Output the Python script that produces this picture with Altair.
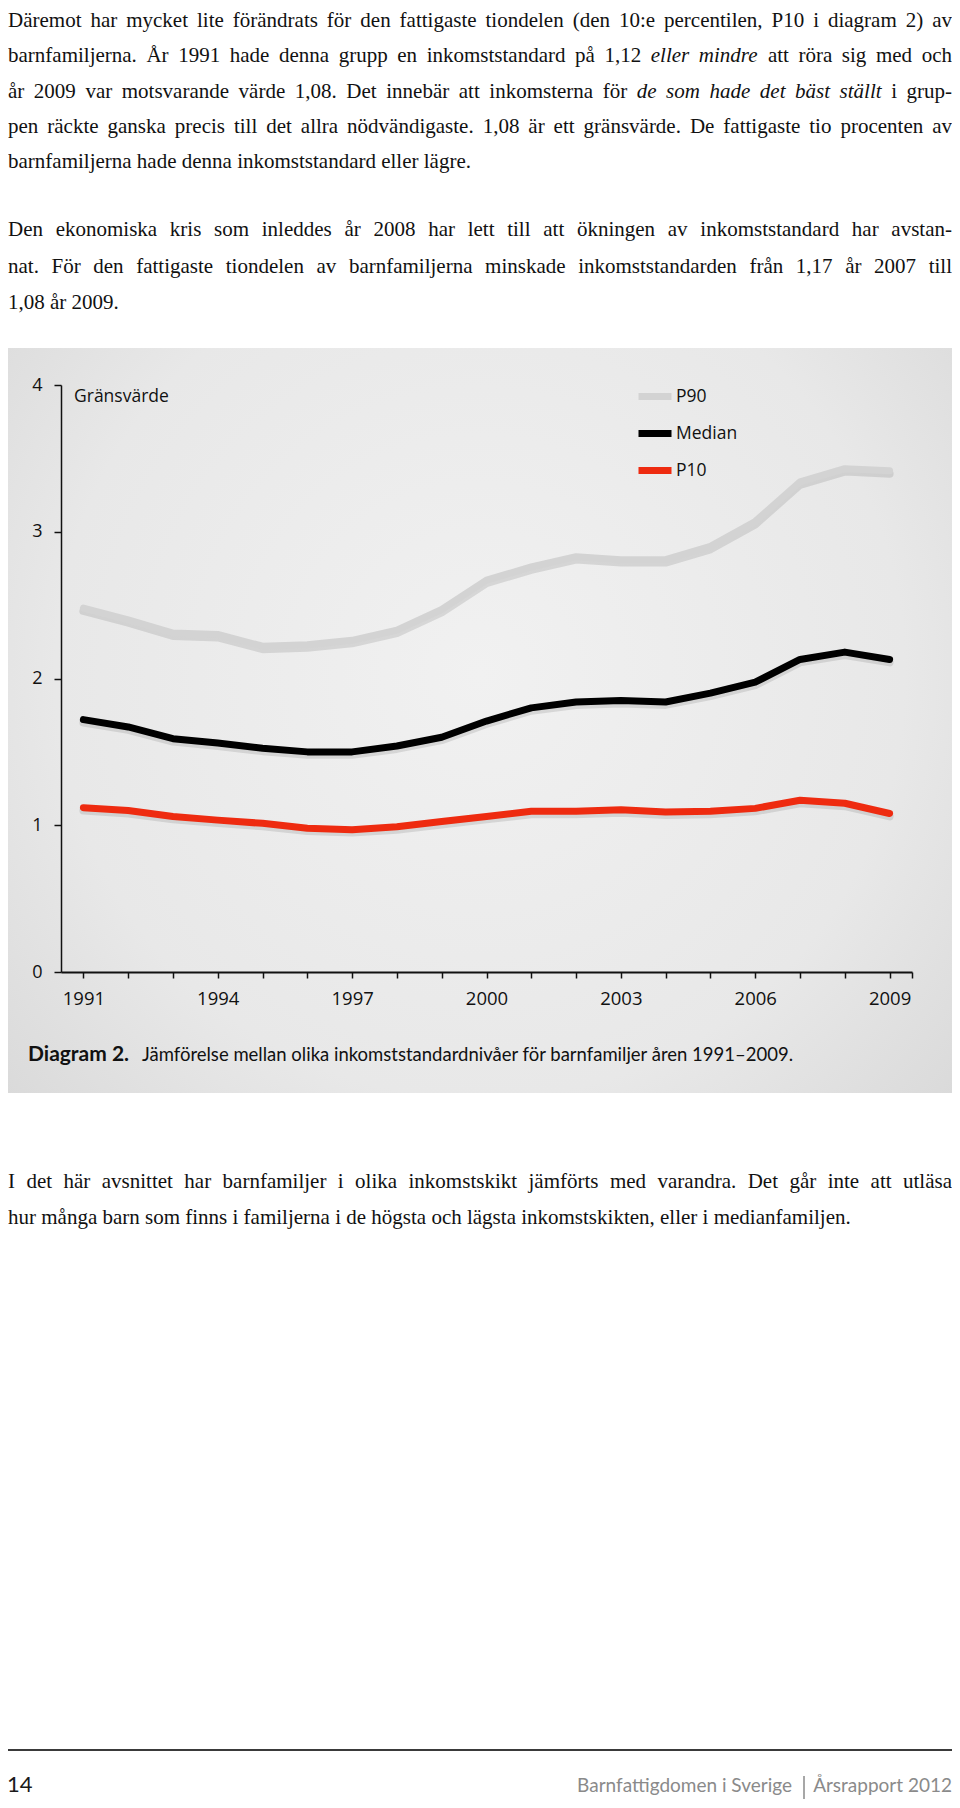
import altair as alt
import pandas as pd

# ---------------- data ----------------
years = list(range(1991, 2010))
p90 = [2.48, 2.40, 2.31, 2.30, 2.22, 2.23, 2.26, 2.33, 2.47, 2.67, 2.76, 2.83, 2.81, 2.81, 2.90, 3.07, 3.34, 3.43, 3.415]
median = [1.72, 1.67, 1.59, 1.56, 1.525, 1.50, 1.50, 1.54, 1.60, 1.71, 1.80, 1.84, 1.85, 1.84, 1.90, 1.975, 2.13, 2.18, 2.13]
p10 = [1.12, 1.10, 1.06, 1.035, 1.013, 0.98, 0.97, 0.99, 1.025, 1.06, 1.095, 1.095, 1.105, 1.09, 1.095, 1.115, 1.17, 1.15, 1.08]
series_names = ["P90", "Median", "P10"]
series_colors = ["#d3d3d3", "#000000", "#ee2b10"]
y_ticks = [0, 1, 2, 3, 4]

# each line: list of (text, style); a line flagged True is justified
para1 = [
    (True, [("Däremot har mycket lite förändrats för den fattigaste tiondelen (den 10:e percentilen, P10 i diagram 2) av", "normal")]),
    (True, [("barnfamiljerna. År 1991 hade denna grupp en inkomststandard på 1,12", "normal"), ("eller mindre", "italic"), ("att röra sig med och", "normal")]),
    (True, [("år 2009 var motsvarande värde 1,08. Det innebär att inkomsterna för", "normal"), ("de som hade det bäst ställt", "italic"), ("i grup-", "normal")]),
    (True, [("pen räckte ganska precis till det allra nödvändigaste. 1,08 är ett gränsvärde. De fattigaste tio procenten av", "normal")]),
    (False, [("barnfamiljerna hade denna inkomststandard eller lägre.", "normal")]),
]
para2 = [
    (True, [("Den ekonomiska kris som inleddes år 2008 har lett till att ökningen av inkomststandard har avstan-", "normal")]),
    (True, [("nat. För den fattigaste tiondelen av barnfamiljerna minskade inkomststandarden från 1,17 år 2007 till", "normal")]),
    (False, [("1,08 år 2009.", "normal")]),
]
para3 = [
    (True, [("I det här avsnittet har barnfamiljer i olika inkomstskikt jämförts med varandra. Det går inte att utläsa", "normal")]),
    (False, [("hur många barn som finns i familjerna i de högsta och lägsta inkomstskikten, eller i medianfamiljen.", "normal")]),
]
label_gransvarde = "Gränsvärde"
caption_bold = "Diagram 2."
caption_text = "Jämförelse mellan olika inkomststandardnivåer för barnfamiljer åren 1991–2009."
footer_page = "14"
footer_left = "Barnfattigdomen i Sverige"
footer_right = "Årsrapport 2012"

rows = []
for name, vals in zip(series_names, [p90, median, p10]):
    for yr, v in zip(years, vals):
        rows.append({"year": yr, "value": v, "series": name})
df = pd.DataFrame(rows)

# ---------------- layout helpers ----------------
X0, Y0 = 61, 385          # page position of the plot origin
def px(X): return X - X0
def py(Y): return Y - Y0

SERIF = "Liberation Serif"
SANS = "Open Sans"
CAP = "Lato"
one = pd.DataFrame({"a": [0]})

# Times New Roman / Liberation Serif advance widths (1/1000 em) for justification
_W = {" ": 250, ",": 250, ".": 250, ":": 278, "-": 333, "(": 333, ")": 333}
_W.update({d: 500 for d in "0123456789"})
_W.update(dict(zip("ABCDEFGHIJKLMNOPQRSTUVWXYZ",
                   [722, 667, 667, 722, 611, 556, 722, 722, 333, 389, 722, 611, 889,
                    722, 722, 556, 722, 667, 556, 611, 722, 722, 944, 722, 722, 611])))
_W.update(dict(zip("abcdefghijklmnopqrstuvwxyz",
                   [444, 500, 444, 500, 444, 333, 500, 500, 278, 278, 500, 278, 778,
                    500, 500, 500, 500, 333, 389, 278, 500, 500, 722, 500, 500, 444])))
_W.update({"ä": 444, "å": 444, "ö": 500, "Å": 722, "Ä": 722, "Ö": 722})
_WI = dict(_W)
_WI.update(dict(zip("abcdefghijklmnopqrstuvwxyz",
                    [500, 500, 444, 500, 444, 278, 500, 500, 278, 278, 444, 278, 722,
                     500, 500, 500, 500, 389, 389, 278, 500, 444, 667, 444, 444, 389])))
_WI.update({"ä": 500, "å": 500, "ö": 500})

def tw(s, size, style):
    tab = _WI if style == "italic" else _W
    return sum(tab.get(c, 500) for c in s) * size / 1000.0

def txt(s, x, y, size, font, align="left", weight="normal", style="normal",
        color="#111111", baseline="middle"):
    return alt.Chart(pd.DataFrame({"t": [s]})).mark_text(
        align=align, baseline=baseline, font=font, fontSize=size,
        fontWeight=weight, fontStyle=style, color=color
    ).encode(text="t:N", x=alt.value(x), y=alt.value(y))

layers = []

# grey chart panel
bg = alt.Chart(one).mark_rect(
    fill=alt.RadialGradient(
        gradient="radial",
        stops=[alt.GradientStop(offset=0, color="#f1f1f1"),
               alt.GradientStop(offset=0.6, color="#e8e8e8"),
               alt.GradientStop(offset=1, color="#d5d5d5")],
        x1=0.5, y1=0.45, r1=0, x2=0.5, y2=0.45, r2=0.75)
).encode(x=alt.value(px(8)), x2=alt.value(px(952)), y=alt.value(py(348)), y2=alt.value(py(1093)))
layers.append(bg)

xscale = alt.Scale(domain=[1990.5, 2009.5], nice=False, zero=False)
yscale = alt.Scale(domain=[0, 4], nice=False, zero=True)
xaxis = alt.Axis(
    title=None, values=years + [2009.5], format="d", zindex=1,
    labelExpr="(datum.value - 1991) % 3 == 0 ? datum.label : ''",
    labelOverlap=False, labelFlush=False, grid=False,
    domainColor="#111111", domainWidth=2, tickColor="#111111", tickWidth=1.5, tickSize=6,
    labelFont=SANS, labelFontSize=18.5, labelColor="#111111", labelPadding=11)
yaxis = alt.Axis(
    title=None, values=y_ticks, format="d", grid=False, zindex=1,
    domainColor="#111111", domainWidth=1.5, tickColor="#111111", tickWidth=1.5, tickSize=7,
    labelFont=SANS, labelFontSize=18, labelColor="#111111", labelPadding=12)

shadow = alt.Chart(df).transform_calculate(sv="datum.value - 0.02").mark_line(
    strokeWidth=8, color="#000000", opacity=0.10, strokeJoin="round", strokeCap="round"
).encode(
    x=alt.X("year:Q", scale=xscale, axis=xaxis),
    y=alt.Y("sv:Q", scale=yscale, axis=yaxis),
    detail="series:N",
)
layers.append(shadow)

lines = alt.Chart(df).mark_line(strokeWidth=7, strokeJoin="round", strokeCap="round").encode(
    x=alt.X("year:Q", scale=xscale, axis=xaxis),
    y=alt.Y("value:Q", scale=yscale, axis=yaxis),
    color=alt.Color("series:N", sort=series_names,
                    scale=alt.Scale(domain=series_names, range=series_colors),
                    legend=alt.Legend(title=None, orient="none", legendX=574, legendY=-8.5,
                                      direction="vertical", symbolType="stroke", symbolSize=1089,
                                      symbolStrokeWidth=7, labelFont=SANS, labelFontSize=17.5,
                                      labelColor="#111111", labelOffset=1, rowPadding=3, padding=0)),
    order="year:Q",
)
layers.append(lines)

layers.append(txt(label_gransvarde, px(74), py(397), 17.5, SANS))

# caption
layers.append(txt(caption_bold, px(28), py(1061), 21, CAP, weight="bold", baseline="alphabetic"))
layers.append(txt(caption_text, px(142), py(1061), 18.5, CAP, baseline="alphabetic"))

# body text (justified like the printed page)
LEFT, RIGHT = px(8), px(952)
BODY = 21

def add_para(par, y_first, lead, size=BODY):
    for i, (just, segs) in enumerate(par):
        y = py(y_first + i * lead)
        if not just:
            layers.append(txt("".join(s for s, _ in segs), LEFT, y, size, SERIF))
            continue
        words = [(w, st) for s, st in segs for w in s.split()]
        widths = [tw(w, size, st) for w, st in words]
        gap = (RIGHT - LEFT - sum(widths)) / (len(words) - 1)
        x = LEFT
        for (w, st), wd in zip(words, widths):
            layers.append(txt(w, x, y, size, SERIF, style=st))
            x += wd + gap

add_para(para1, 21, 35.3)
add_para(para2, 230, 36.5)
add_para(para3, 1182, 36)

# footer
layers.append(alt.Chart(one).mark_rule(color="#3a3a3a", strokeWidth=1.8).encode(
    x=alt.value(px(8)), x2=alt.value(px(952)), y=alt.value(py(1750))))
layers.append(alt.Chart(one).mark_rule(color="#8a8a8a", strokeWidth=1.5).encode(
    x=alt.value(px(804)), y=alt.value(py(1776)), y2=alt.value(py(1799))))
layers.append(txt(footer_page, px(7), py(1792), 22, CAP, color="#1a1a1a", baseline="alphabetic"))
layers.append(txt(footer_left, px(792), py(1792), 19, CAP, align="right", color="#8a8a8a", baseline="alphabetic"))
layers.append(txt(footer_right, px(952), py(1792), 19, CAP, align="right", color="#8a8a8a", baseline="alphabetic"))

chart = alt.layer(*layers).properties(
    width=851, height=587,
    autosize=alt.AutoSizeParams(type="none"),
    padding={"left": 53, "top": 377, "right": 40, "bottom": 828},
    background="white",
).configure_view(stroke=None)

chart.save("out.html", embed_options={"renderer": "svg", "actions": False})
